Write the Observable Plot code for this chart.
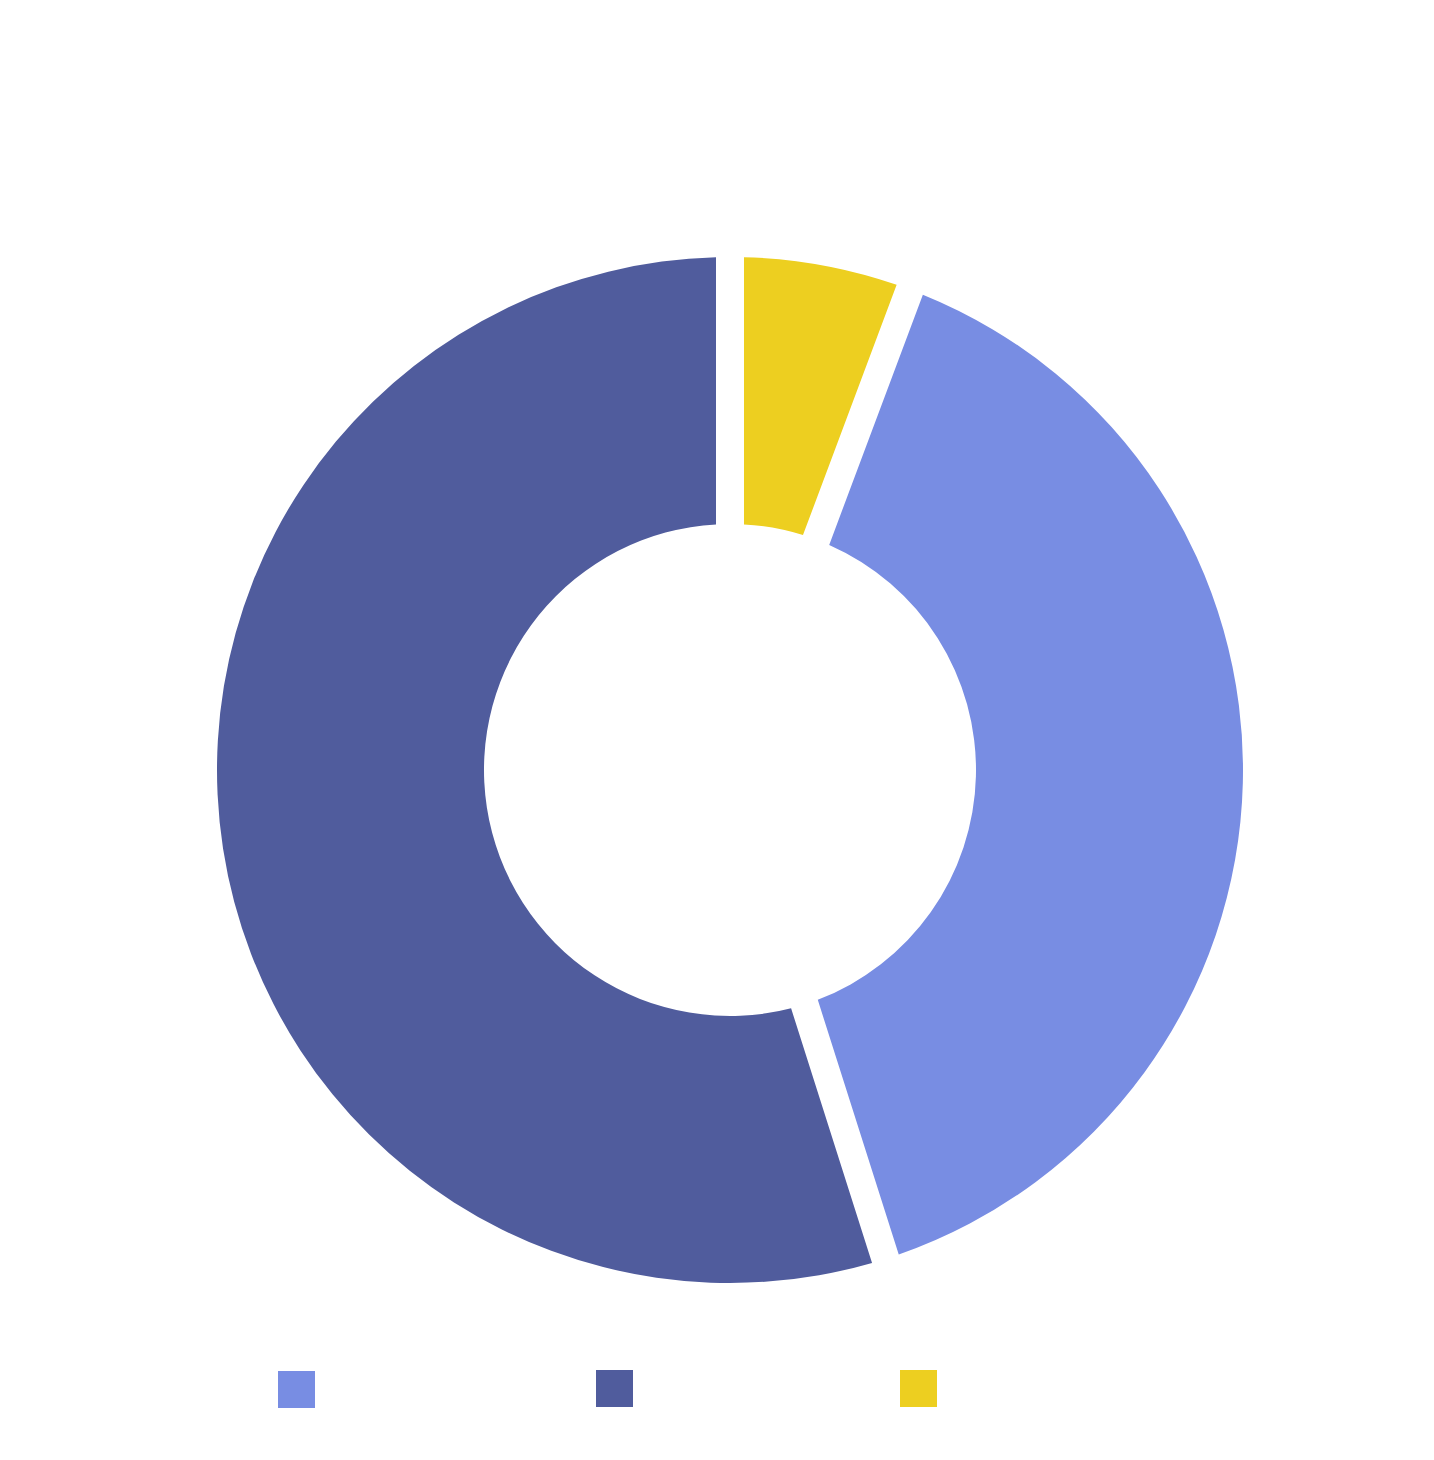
<!DOCTYPE html>
<html>
<head>
<meta charset="utf-8">
<script src="https://cdn.jsdelivr.net/npm/d3@7"></script>
<script src="https://cdn.jsdelivr.net/npm/@observablehq/plot@0.6"></script>
<style>
  html, body { margin: 0; padding: 0; background: #fff; }
  #wrap { position: relative; width: 1434px; height: 1460px; font-family: "Noto Sans", sans-serif; }
  #legend { position: absolute; top: 1370px; left: 0; width: 1434px; height: 40px; }
  .sw { position: absolute; width: 37px; height: 37px; }
</style>
</head>
<body>
<div id="wrap"><div id="chart"></div><div id="legend"></div></div>
<script>
// Data (legend order)
const categories = ["Category 1", "Category 2", "Category 3"];
const values = [39.4, 54.9, 5.7];
const colors = ["#788de3", "#505c9d", "#edcf20"];
// clockwise drawing order starting at 12 o'clock
const drawOrder = ["Category 3", "Category 1", "Category 2"];

const data = categories.map((c, i) => ({category: c, value: values[i]}));

const outerR = 513, innerR = 246, gap = 28;

const color = Plot.scale({color: {type: "ordinal", domain: categories, range: colors}});

function donutMark(index, scales, channels, dim) {
  const W = (dim && dim.width) || 1434, H = (dim && dim.height) || 1340;
  const ml = (dim && dim.marginLeft) ?? 26, mr = (dim && dim.marginRight) ?? 0;
  const mt = (dim && dim.marginTop) ?? 200, mb = (dim && dim.marginBottom) ?? 0;
  const cx = ml + (W - ml - mr) / 2;
  const cy = mt + (H - mt - mb) / 2;
  const ordered = drawOrder.map(c => data.find(d => d.category === c));
  const arcs = d3.pie().sort(null).value(d => d.value)(ordered);
  const arc = d3.arc().innerRadius(innerR).outerRadius(outerR).padRadius(outerR);
  const g = d3.create("svg:g").attr("transform", `translate(${cx},${cy})`);
  g.selectAll("path").data(arcs).join("path")
    .attr("d", d => arc({...d, padAngle: gap / outerR}))
    .attr("fill", d => color.apply(d.data.category));
  return g.node();
}

const plot = Plot.plot({
  width: 1434,
  height: 1340,
  marginLeft: 26,
  marginRight: 0,
  marginTop: 200,
  marginBottom: 0,
  axis: null,
  marks: [donutMark]
});
document.getElementById("chart").appendChild(plot);

// legend swatches from the color scale
const legendX = [278, 596, 900];
const leg = d3.select("#legend");
color.domain.forEach((c, i) => {
  leg.append("div").attr("class", "sw")
    .attr("title", c)
    .style("left", legendX[i] + "px")
    .style("top", (i === 0 ? 1 : 0) + "px")
    .style("background", color.apply(c));
});
</script>
</body>
</html>
